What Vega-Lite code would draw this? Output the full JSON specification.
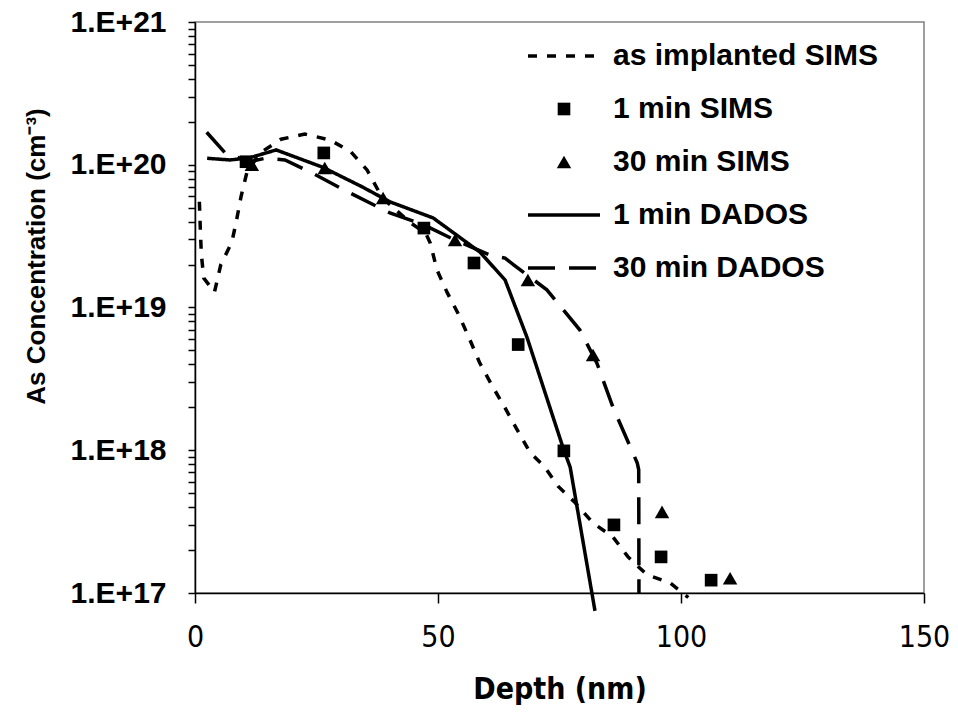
{
  "$schema": "https://vega.github.io/schema/vega-lite/v6.json",
  "width": 729,
  "height": 571,
  "autosize": "none",
  "padding": {"left": 195, "top": 22, "right": 34, "bottom": 125},
  "background": "white",
  "config": {
    "view": {"stroke": "#808080", "strokeWidth": 1.5},
    "axis": {"grid": false, "domainColor": "black", "tickColor": "black", "labelColor": "black", "titleColor": "black", "domainWidth": 1.5, "tickWidth": 1.5},
    "legend": {"title": null, "labelFont": "Liberation Sans", "labelFontSize": 30, "labelFontWeight": "bold", "labelColor": "black", "labelLimit": 500, "symbolStrokeColor": "black", "symbolFillColor": "black", "symbolStrokeWidth": 3.5, "labelOffset": 34, "padding": 0, "rowPadding": 23}
  },
  "data": {
    "values": [
      {"series": "as implanted SIMS", "depth": 0.9, "conc": 5.5e19},
      {"series": "as implanted SIMS", "depth": 1.1, "conc": 3.5e19},
      {"series": "as implanted SIMS", "depth": 1.3, "conc": 2.37e19},
      {"series": "as implanted SIMS", "depth": 1.8, "conc": 1.61e19},
      {"series": "as implanted SIMS", "depth": 4.0, "conc": 1.28e19},
      {"series": "as implanted SIMS", "depth": 5.3, "conc": 1.99e19},
      {"series": "as implanted SIMS", "depth": 7.6, "conc": 2.88e19},
      {"series": "as implanted SIMS", "depth": 8.6, "conc": 4.17e19},
      {"series": "as implanted SIMS", "depth": 9.5, "conc": 6.04e19},
      {"series": "as implanted SIMS", "depth": 10.7, "conc": 8.9e19},
      {"series": "as implanted SIMS", "depth": 13.4, "conc": 1.21e20},
      {"series": "as implanted SIMS", "depth": 17.7, "conc": 1.51e20},
      {"series": "as implanted SIMS", "depth": 22.6, "conc": 1.64e20},
      {"series": "as implanted SIMS", "depth": 27.8, "conc": 1.49e20},
      {"series": "as implanted SIMS", "depth": 32.1, "conc": 1.23e20},
      {"series": "as implanted SIMS", "depth": 35.4, "conc": 9.2e19},
      {"series": "as implanted SIMS", "depth": 38.5, "conc": 5.9e19},
      {"series": "as implanted SIMS", "depth": 44.0, "conc": 4.0e19},
      {"series": "as implanted SIMS", "depth": 47.5, "conc": 3.3e19},
      {"series": "as implanted SIMS", "depth": 48.4, "conc": 2.83e19},
      {"series": "as implanted SIMS", "depth": 49.8, "conc": 1.83e19},
      {"series": "as implanted SIMS", "depth": 51.9, "conc": 1.27e19},
      {"series": "as implanted SIMS", "depth": 54.3, "conc": 8.85e18},
      {"series": "as implanted SIMS", "depth": 56.6, "conc": 5.9e18},
      {"series": "as implanted SIMS", "depth": 58.6, "conc": 4.08e18},
      {"series": "as implanted SIMS", "depth": 61.3, "conc": 2.77e18},
      {"series": "as implanted SIMS", "depth": 63.8, "conc": 1.98e18},
      {"series": "as implanted SIMS", "depth": 66.3, "conc": 1.39e18},
      {"series": "as implanted SIMS", "depth": 68.9, "conc": 9.7e17},
      {"series": "as implanted SIMS", "depth": 72.0, "conc": 7.6e17},
      {"series": "as implanted SIMS", "depth": 74.7, "conc": 5.6e17},
      {"series": "as implanted SIMS", "depth": 78.2, "conc": 4.3e17},
      {"series": "as implanted SIMS", "depth": 81.9, "conc": 3.09e17},
      {"series": "as implanted SIMS", "depth": 86.0, "conc": 2.47e17},
      {"series": "as implanted SIMS", "depth": 89.1, "conc": 1.79e17},
      {"series": "as implanted SIMS", "depth": 93.0, "conc": 1.34e17},
      {"series": "as implanted SIMS", "depth": 97.7, "conc": 1.18e17},
      {"series": "as implanted SIMS", "depth": 101.5, "conc": 9.3e16},
      {"series": "1 min DADOS", "depth": 2.5, "conc": 1.11e20},
      {"series": "1 min DADOS", "depth": 7.2, "conc": 1.08e20},
      {"series": "1 min DADOS", "depth": 11.3, "conc": 1.12e20},
      {"series": "1 min DADOS", "depth": 16.7, "conc": 1.27e20},
      {"series": "1 min DADOS", "depth": 26.3, "conc": 9.6e19},
      {"series": "1 min DADOS", "depth": 34.4, "conc": 7.0e19},
      {"series": "1 min DADOS", "depth": 40.1, "conc": 5.5e19},
      {"series": "1 min DADOS", "depth": 49.0, "conc": 4.24e19},
      {"series": "1 min DADOS", "depth": 58.6, "conc": 2.45e19},
      {"series": "1 min DADOS", "depth": 63.8, "conc": 1.56e19},
      {"series": "1 min DADOS", "depth": 68.3, "conc": 6.2e18},
      {"series": "1 min DADOS", "depth": 75.7, "conc": 1.05e18},
      {"series": "1 min DADOS", "depth": 77.2, "conc": 7.6e17},
      {"series": "1 min DADOS", "depth": 82.3, "conc": 7.5e16},
      {"series": "30 min DADOS", "depth": 2.4, "conc": 1.69e20},
      {"series": "30 min DADOS", "depth": 6.2, "conc": 1.21e20},
      {"series": "30 min DADOS", "depth": 11.3, "conc": 1.05e20},
      {"series": "30 min DADOS", "depth": 14.4, "conc": 1.11e20},
      {"series": "30 min DADOS", "depth": 18.5, "conc": 1.08e20},
      {"series": "30 min DADOS", "depth": 23.7, "conc": 8.9e19},
      {"series": "30 min DADOS", "depth": 31.5, "conc": 6.44e19},
      {"series": "30 min DADOS", "depth": 40.1, "conc": 4.6e19},
      {"series": "30 min DADOS", "depth": 47.0, "conc": 3.8e19},
      {"series": "30 min DADOS", "depth": 53.5, "conc": 2.97e19},
      {"series": "30 min DADOS", "depth": 60.7, "conc": 2.33e19},
      {"series": "30 min DADOS", "depth": 63.8, "conc": 2.22e19},
      {"series": "30 min DADOS", "depth": 65.5, "conc": 2.0e19},
      {"series": "30 min DADOS", "depth": 72.4, "conc": 1.33e19},
      {"series": "30 min DADOS", "depth": 79.2, "conc": 6.95e18},
      {"series": "30 min DADOS", "depth": 82.7, "conc": 4.08e18},
      {"series": "30 min DADOS", "depth": 86.0, "conc": 2.0e18},
      {"series": "30 min DADOS", "depth": 91.0, "conc": 8.15e17},
      {"series": "30 min DADOS", "depth": 91.3, "conc": 7.3e17},
      {"series": "30 min DADOS", "depth": 91.35, "conc": 1.0e17},
      {"series": "1 min SIMS", "depth": 10.5, "conc": 1.05e20},
      {"series": "1 min SIMS", "depth": 26.5, "conc": 1.21e20},
      {"series": "1 min SIMS", "depth": 47.1, "conc": 3.6e19},
      {"series": "1 min SIMS", "depth": 57.4, "conc": 2.05e19},
      {"series": "1 min SIMS", "depth": 66.5, "conc": 5.5e18},
      {"series": "1 min SIMS", "depth": 75.9, "conc": 9.9e17},
      {"series": "1 min SIMS", "depth": 86.2, "conc": 3.0e17},
      {"series": "1 min SIMS", "depth": 95.9, "conc": 1.79e17},
      {"series": "1 min SIMS", "depth": 106.2, "conc": 1.23e17},
      {"series": "30 min SIMS", "depth": 11.7, "conc": 1.0e20},
      {"series": "30 min SIMS", "depth": 26.7, "conc": 9.5e19},
      {"series": "30 min SIMS", "depth": 38.7, "conc": 5.85e19},
      {"series": "30 min SIMS", "depth": 53.5, "conc": 2.97e19},
      {"series": "30 min SIMS", "depth": 68.5, "conc": 1.56e19},
      {"series": "30 min SIMS", "depth": 81.9, "conc": 4.65e18},
      {"series": "30 min SIMS", "depth": 96.1, "conc": 3.7e17},
      {"series": "30 min SIMS", "depth": 110.1, "conc": 1.27e17}
    ]
  },
  "encoding": {
    "x": {
      "field": "depth", "type": "quantitative",
      "scale": {"domain": [0, 150], "nice": false, "zero": false},
      "axis": {"title": "Depth  (nm)", "values": [0, 50, 100, 150], "format": "d", "tickSize": 10, "labelFlush": false, "labelFont": "DejaVu Sans Condensed", "labelFontSize": 30, "labelPadding": 19, "titleFont": "DejaVu Sans Condensed", "titleFontWeight": "bold", "titleFontSize": 30, "titlePadding": 22}
    },
    "y": {
      "field": "conc", "type": "quantitative",
      "scale": {"type": "log", "domain": [1e17, 1e21], "nice": false},
      "axis": {
        "title": "As Concentration (cm⁻³)",
        "values": [1e17, 2e17, 3e17, 4e17, 5e17, 6e17, 7e17, 8e17, 9e17, 1e18, 2e18, 3e18, 4e18, 5e18, 6e18, 7e18, 8e18, 9e18, 1e19, 2e19, 3e19, 4e19, 5e19, 6e19, 7e19, 8e19, 9e19, 1e20, 2e20, 3e20, 4e20, 5e20, 6e20, 7e20, 8e20, 9e20, 1e21],
        "labelExpr": "abs(log(datum.value)/LN10 - round(log(datum.value)/LN10)) < 0.001 ? '1.E+' + round(log(datum.value)/LN10) : ''",
        "labelOverlap": false, "labelFlush": false,
        "tickSize": 7, "labelPadding": 22,
        "labelFont": "Liberation Sans", "labelFontWeight": "bold", "labelFontSize": 30,
        "titleFont": "Liberation Sans", "titleFontWeight": "bold", "titleFontSize": 26, "titlePadding": 21, "titleY": 234
      }
    }
  },
  "layer": [
    {
      "transform": [{"filter": "indexof(['as implanted SIMS','1 min DADOS','30 min DADOS'], datum.series) >= 0"}],
      "mark": {"type": "line", "color": "black", "strokeWidth": 3.5},
      "encoding": {
        "strokeDash": {
          "field": "series", "type": "nominal",
          "scale": {"domain": ["as implanted SIMS", "1 min SIMS", "30 min SIMS", "1 min DADOS", "30 min DADOS"], "range": [[9, 10], [1, 0], [1, 0], [1, 0], [27, 14]]},
          "legend": {"orient": "none", "legendX": 354, "legendY": 19, "encode": {"symbols": {"update": {"strokeWidth": {"signal": "indexof(['1 min SIMS','30 min SIMS'], datum.value) >= 0 ? 0 : 3.5"}}}}}
        }
      }
    },
    {
      "transform": [{"filter": "indexof(['1 min SIMS','30 min SIMS'], datum.series) >= 0"}],
      "mark": {"type": "point", "filled": true, "color": "black", "opacity": 1},
      "encoding": {
        "shape": {
          "field": "series", "type": "nominal",
          "scale": {"domain": ["as implanted SIMS", "1 min SIMS", "30 min SIMS", "1 min DADOS", "30 min DADOS"], "range": ["stroke", "square", "triangle-up", "stroke", "stroke"]},
          "legend": {"orient": "none", "legendX": 354, "legendY": 19}
        },
        "size": {
          "field": "series", "type": "nominal",
          "scale": {"type": "ordinal", "domain": ["as implanted SIMS", "1 min SIMS", "30 min SIMS", "1 min DADOS", "30 min DADOS"], "range": [5184, 160, 210, 5184, 5184]},
          "legend": {"orient": "none", "legendX": 354, "legendY": 19}
        }
      }
    }
  ]
}
